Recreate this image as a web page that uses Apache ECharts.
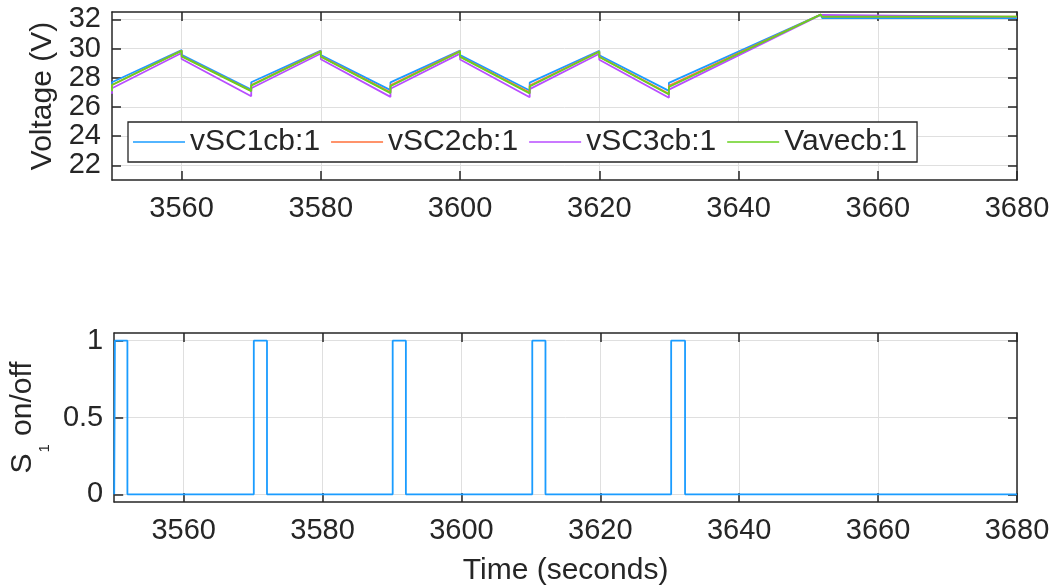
<!DOCTYPE html>
<html>
<head>
<meta charset="utf-8">
<title>SC voltages</title>
<script src="https://cdn.jsdelivr.net/npm/echarts@6/dist/echarts.min.js"></script>
<style>
html, body { margin: 0; padding: 0; background: #fff; }
#main { width: 1055px; height: 587px; }
</style>
</head>
<body>
<div id="main"></div>
<script>
// voltage traces, time in seconds (a repeated time is a jump)
var timeV = [3550, 3550, 3560, 3560, 3570, 3570, 3580, 3580, 3590, 3590, 3600, 3600, 3610, 3610, 3620, 3620, 3630, 3630, 3651.8, 3652, 3680];
var vSC1 = [27.2, 27.69, 29.9, 29.57, 27.19, 27.69, 29.86, 29.55, 27.15, 27.68, 29.86, 29.55, 27.13, 27.67, 29.85, 29.54, 27.1, 27.65, 32.32, 32.09, 32.09];
var vSC2 = [27.1, 27.5, 29.86, 29.48, 27.1, 27.5, 29.82, 29.46, 27.0, 27.48, 29.82, 29.45, 26.98, 27.46, 29.8, 29.44, 26.9, 27.45, 32.33, 32.18, 32.18];
var vSC3 = [26.9, 27.28, 29.69, 29.28, 26.73, 27.28, 29.66, 29.26, 26.69, 27.25, 29.65, 29.25, 26.67, 27.22, 29.64, 29.23, 26.63, 27.19, 32.3, 32.17, 32.17];
var vAve = [27.08, 27.5, 29.84, 29.46, 27.08, 27.46, 29.8, 29.44, 26.95, 27.42, 29.8, 29.43, 26.92, 27.4, 29.78, 29.42, 26.85, 27.37, 32.32, 32.18, 32.18];

// switch S1 state changes (held until the next time)
var timeS = [3550, 3550.1, 3551.9, 3570.1, 3572.0, 3590.1, 3592.0, 3610.2, 3612.1, 3630.2, 3632.2, 3680];
var s1 = [0, 1, 0, 1, 0, 1, 0, 1, 0, 1, 0, 0];

var timeTicks = [3560, 3580, 3600, 3620, 3640, 3660, 3680];
var voltTicks = [22, 24, 26, 28, 30, 32];
var s1Ticks = [0, 0.5, 1];

var seriesNames = ['vSC1cb:1', 'vSC2cb:1', 'vSC3cb:1', 'Vavecb:1'];
var colors = ['#1a9cff', '#ff6f3a', '#b84dff', '#67d11f'];

var FONT = 'Liberation Sans, Arial, sans-serif';
var INK = '#262626';

function pairs(xs, ys) {
    var out = [];
    for (var i = 0; i < xs.length; i++) out.push([xs[i], ys[i]]);
    return out;
}
function plain(v) { return String(v); }

// one axis of the box; labels only on the bottom / left ones
function xAx(grid, pos, labels) {
    return {
        type: 'value', gridIndex: grid, position: pos, min: 3550, max: 3680,
        axisLine: { show: true, onZero: false, lineStyle: { color: INK, width: 1.5 } },
        axisTick: { show: true, inside: true, length: 9, customValues: timeTicks, lineStyle: { color: INK, width: 1.5 } },
        axisLabel: { show: labels, customValues: timeTicks, formatter: plain, margin: 14, fontSize: 29, fontFamily: FONT, color: INK },
        splitLine: { show: labels, lineStyle: { color: '#dfdfdf', width: 1 } }
    };
}
function yAx(grid, pos, labels, min, max, ticks) {
    return {
        type: 'value', gridIndex: grid, position: pos, min: min, max: max,
        axisLine: { show: true, onZero: false, lineStyle: { color: INK, width: 1.5 } },
        axisTick: { show: true, inside: true, length: 9, customValues: ticks, lineStyle: { color: INK, width: 1.5 } },
        axisLabel: { show: labels, customValues: ticks, formatter: plain, margin: 11, fontSize: 29, fontFamily: FONT, color: INK },
        splitLine: { show: labels, lineStyle: { color: '#dfdfdf', width: 1 } }
    };
}

var xAxes = [xAx(0, 'bottom', true), xAx(0, 'top', false), xAx(1, 'bottom', true), xAx(1, 'top', false)];
xAxes[2].name = 'Time (seconds)';
xAxes[2].nameLocation = 'middle';
xAxes[2].nameGap = 54;
xAxes[2].nameTextStyle = { fontSize: 30, fontFamily: FONT, color: INK };

var yAxes = [
    yAx(0, 'left', true, 21, 32.5, voltTicks), yAx(0, 'right', false, 21, 32.5, voltTicks),
    yAx(1, 'left', true, -0.05, 1.05, s1Ticks), yAx(1, 'right', false, -0.05, 1.05, s1Ticks)
];
yAxes[0].name = 'Voltage (V)';
yAxes[0].nameLocation = 'middle';
yAxes[0].nameGap = 49;
yAxes[0].nameTextStyle = { fontSize: 30, fontFamily: FONT, color: INK };
yAxes[2].name = '{a|S}{s|1}{a| on/off}';
yAxes[2].nameLocation = 'middle';
yAxes[2].nameGap = 62;
yAxes[2].nameTextStyle = {
    color: INK,
    rich: {
        a: { fontSize: 30, fontFamily: FONT, color: INK, lineHeight: 30, verticalAlign: 'top' },
        s: { fontSize: 15, fontFamily: FONT, color: INK, lineHeight: 15, verticalAlign: 'top', padding: [29, 0, 0, 1] }
    }
};

var vData = [vSC1, vSC2, vSC3, vAve];
var series = [];
for (var k = 0; k < vData.length; k++) {
    series.push({
        name: seriesNames[k], type: 'line', xAxisIndex: 0, yAxisIndex: 0,
        data: pairs(timeV, vData[k]), symbol: 'none', animation: false,
        lineStyle: { color: colors[k], width: 1.8 }, itemStyle: { color: colors[k] }
    });
}
series.push({
    name: 'S1', type: 'line', xAxisIndex: 2, yAxisIndex: 2, step: 'end',
    data: pairs(timeS, s1), symbol: 'none', animation: false,
    lineStyle: { color: colors[0], width: 1.8 }
});

var myChart = echarts.init(document.getElementById('main'));
myChart.setOption({
    backgroundColor: '#fff',
    animation: false,
    grid: [
        { left: 112, top: 12, right: 38, height: 168 },
        { left: 112, top: 333, right: 38, height: 169 }
    ],
    legend: {
        data: seriesNames,
        left: 128, top: 122,
        icon: 'rect',
        itemWidth: 52, itemHeight: 1.6, itemGap: 11,
        padding: [5, 10, 5, 5],
        borderColor: INK, borderWidth: 1.3,
        backgroundColor: '#fff',
        textStyle: { fontSize: 30, fontFamily: FONT, color: INK }
    },
    xAxis: xAxes,
    yAxis: yAxes,
    series: series
});
</script>
</body>
</html>
